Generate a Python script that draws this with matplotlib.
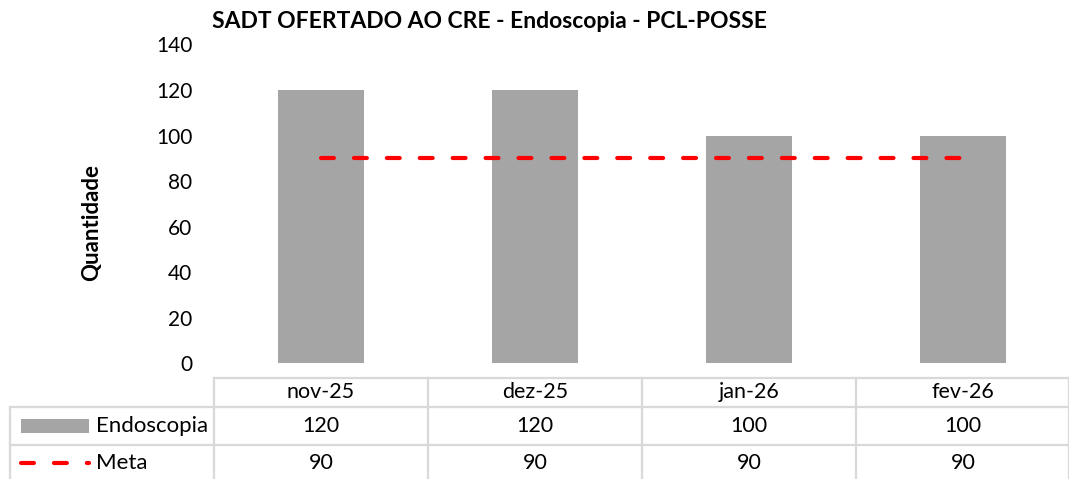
import numpy as np
import matplotlib
matplotlib.use('Agg')
import matplotlib.pyplot as plt

plt.rcParams['font.family'] = ['Lato', 'DejaVu Sans']

meses = ['nov-25', 'dez-25', 'jan-26', 'fev-26']
endoscopia = [120, 120, 100, 100]
meta = [90, 90, 90, 90]

titulo = 'SADT OFERTADO AO CRE - Endoscopia - PCL-POSSE'
cinza = '#a5a5a5'
vermelho = '#ff0000'
grade = '#d9d9d9'

W, H = 1069, 479
fig = plt.figure(figsize=(W / 100, H / 100), dpi=100)

def px(x0, y0, x1, y1):
    # figure rect from pixel box (top-left origin)
    return [x0 / W, 1 - y1 / H, (x1 - x0) / W, (y1 - y0) / H]

# area do grafico
ax = fig.add_axes(px(214, 44.5, 1070, 363))
x = np.arange(len(meses))
ax.bar(x, endoscopia, width=0.4, color=cinza, zorder=2)
ax.plot(x, meta, color=vermelho, lw=3, dashes=(3.1, 4.8),
        dash_capstyle='round', zorder=3)
ax.set_xlim(-0.5, len(meses) - 0.5)
ax.set_ylim(0, 140)
ax.set_yticks(range(0, 141, 20))
ax.set_xticks([])
for s in ax.spines.values():
    s.set_visible(False)
ax.tick_params(axis='y', length=0, labelsize=15, pad=15.5)
fig.text(92 / W, 1 - 222 / H, 'Quantidade', rotation=90, fontsize=16,
         fontweight='bold', ha='center', va='center')
fig.text(490 / W, 1 - 22 / H, titulo, fontsize=16.5, fontweight='bold',
         ha='center', va='center')

# tabela de dados
tab = fig.add_axes(px(0, 363, 1070, 479))
tab.set_xlim(0, 1070)
tab.set_ylim(479, 363)
tab.axis('off')
col_w = 214
bordas_y = [378, 407, 445]
lw_g = 1.6
tab.plot([214, 1070], [378, 378], color=grade, lw=lw_g)
for y in bordas_y[1:]:
    tab.plot([10, 1070], [y, y], color=grade, lw=lw_g)
tab.plot([10, 10], [407, 479], color=grade, lw=lw_g)
for i in range(len(meses)):
    xl = 214 + i * col_w
    tab.plot([xl, xl], [378, 479], color=grade, lw=lw_g)
tab.plot([1069, 1069], [378, 479], color=grade, lw=lw_g)

fs = 15.5
for i, m in enumerate(meses):
    xc = 214 + (i + 0.5) * col_w
    tab.text(xc, 392.5, m, ha='center', va='center', fontsize=fs)
    tab.text(xc, 426, str(endoscopia[i]), ha='center', va='center', fontsize=fs)
    tab.text(xc, 463, str(meta[i]), ha='center', va='center', fontsize=fs)

tab.fill_between([21, 89], 419, 433, color=cinza, lw=0)
tab.text(96, 426, 'Endoscopia', ha='left', va='center', fontsize=16)
tab.plot([21, 89], [463, 463], color=vermelho, lw=3, dashes=(3.1, 4.8),
         dash_capstyle='round')
tab.text(96, 463, 'Meta', ha='left', va='center', fontsize=16)

fig.savefig('out.png', dpi=100)
